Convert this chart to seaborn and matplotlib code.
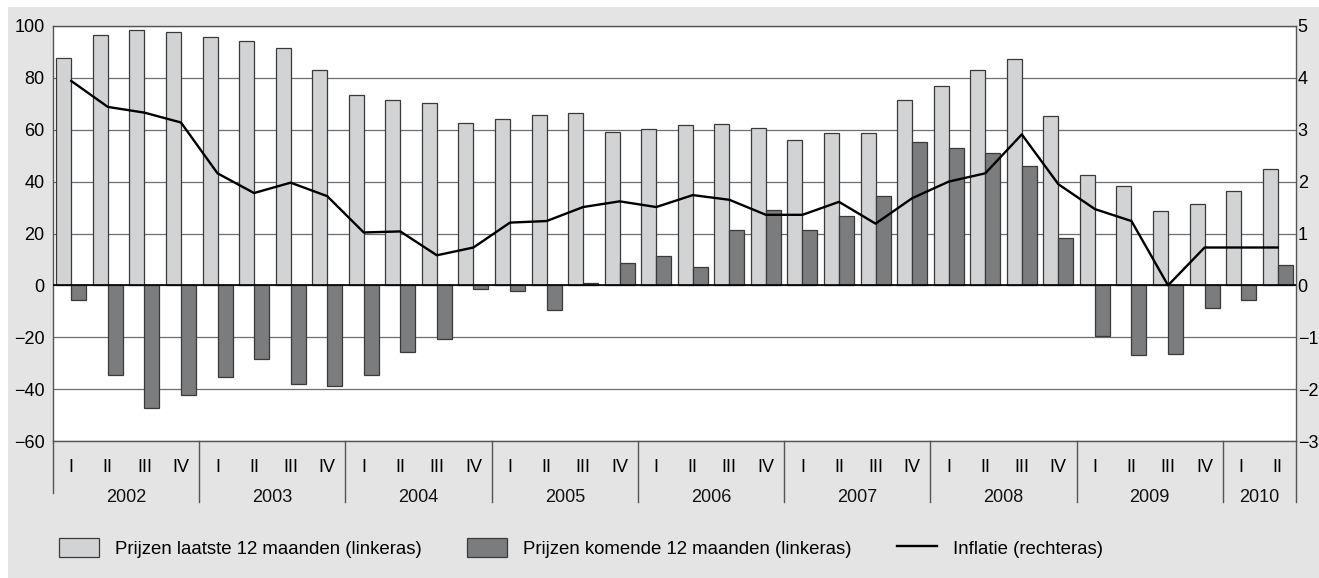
import matplotlib
matplotlib.use("Agg")
import matplotlib.pyplot as plt
import matplotlib.transforms as mtransforms
from matplotlib.patches import Rectangle, Patch
from matplotlib.lines import Line2D
import numpy as np
import pandas as pd
import seaborn as sns

# ---------------- data ----------------
years = ["2002", "2003", "2004", "2005", "2006", "2007", "2008", "2009", "2010"]
quarters_per_year = [4, 4, 4, 4, 4, 4, 4, 4, 2]
quarter_names = ["I", "II", "III", "IV"]

prijzen_laatste = [87.6, 96.7, 98.3, 97.8, 95.7, 94.2, 91.6, 83.1,
                   73.3, 71.4, 70.4, 62.6, 64.3, 65.7, 66.3, 59.2,
                   60.2, 61.8, 62.3, 60.7, 56.2, 58.7, 58.7, 71.5,
                   76.9, 83.0, 87.1, 65.2, 42.5, 38.5, 28.7, 31.4,
                   36.4, 44.9]
prijzen_komende = [-5.8, -34.7, -47.3, -42.3, -35.2, -28.2, -38.2, -38.7,
                   -34.7, -25.6, -20.6, -1.3, -2.3, -9.4, 0.9, 8.5,
                   11.5, 6.9, 21.2, 29.2, 21.2, 26.8, 34.3, 55.2,
                   53.1, 51.1, 46.0, 18.1, -19.4, -27.0, -26.4, -8.7,
                   -5.7, 8.0]
inflatie = [3.94, 3.44, 3.33, 3.14, 2.16, 1.78, 1.98, 1.72,
            1.02, 1.04, 0.58, 0.73, 1.21, 1.24, 1.51, 1.62,
            1.51, 1.74, 1.65, 1.36, 1.36, 1.61, 1.19, 1.68,
            2.00, 2.16, 2.91, 1.95, 1.47, 1.24, 0.00, 0.73,
            0.73, 0.73]

label_laatste = "Prijzen laatste 12 maanden (linkeras)"
label_komende = "Prijzen komende 12 maanden (linkeras)"
label_inflatie = "Inflatie (rechteras)"

left_ticks = [-60, -40, -20, 0, 20, 40, 60, 80, 100]
right_ticks = [-3, -2, -1, 0, 1, 2, 3, 4, 5]

# ---------------- build tables ----------------
period_keys, q_labels = [], []
for y, n in zip(years, quarters_per_year):
    for q in quarter_names[:n]:
        period_keys.append(f"{y} {q}")
        q_labels.append(q)
n_per = len(period_keys)

bars = pd.DataFrame({
    "periode": period_keys * 2,
    "waarde": prijzen_laatste + prijzen_komende,
    "reeks": [label_laatste] * n_per + [label_komende] * n_per,
})
line_df = pd.DataFrame({"pos": np.arange(n_per), "inflatie": inflatie})

# ---------------- style ----------------
plt.rcParams["font.family"] = ["Liberation Sans", "DejaVu Sans"]
plt.rcParams["axes.unicode_minus"] = True

W, H = 1319, 578
fig = plt.figure(figsize=(W / 100, H / 100), dpi=100)
fig.patch.set_facecolor("white")
fig.patches.append(Rectangle((8 / W, 0), 1, 1 - 7 / H, transform=fig.transFigure,
                             facecolor="#e3e4e3", edgecolor="none", zorder=-10))

ax_l, ax_r, ax_t, ax_b = 53 / W, 1296 / W, 1 - 26 / H, 1 - 441 / H
ax = fig.add_axes([ax_l, ax_b, ax_r - ax_l, ax_t - ax_b])
ax.set_facecolor("white")

light, dark = "#d2d3d5", "#7b7c7e"
edge = "#3a3a3a"
sns.barplot(data=bars, x="periode", y="waarde", hue="reeks", order=period_keys,
            hue_order=[label_laatste, label_komende],
            palette={label_laatste: light, label_komende: dark},
            saturation=1, width=0.82, errorbar=None, edgecolor=edge,
            linewidth=0.9, legend=False, ax=ax, zorder=3)

ax.set_ylim(-60, 100)
ax.set_xlim(-0.5, n_per - 0.5)
ax.set_yticks(left_ticks)
ax.set_yticklabels([f"{v:d}".replace("-", "\u2212") for v in left_ticks], fontsize=13)
ax.tick_params(axis="y", length=0, pad=6)
ax.set_xticks(range(n_per))
ax.set_xticklabels(q_labels, fontsize=13)
ax.tick_params(axis="x", length=0, pad=13)
ax.set_xlabel("")
ax.set_ylabel("")
for v in left_ticks:
    ax.axhline(v, color="#6f6f6f", lw=0.9, zorder=1)
ax.axhline(0, color="black", lw=1.2, zorder=4)
for s in ax.spines.values():
    s.set_color("#555555")
    s.set_linewidth(1.0)

# secondary axis with line
ax2 = ax.twinx()
sns.lineplot(data=line_df, x="pos", y="inflatie", color="black", linewidth=1.7,
             ax=ax2, zorder=5)
ax2.set_ylim(-3, 5)
ax2.set_xlim(-0.5, n_per - 0.5)
ax2.set_yticks(right_ticks)
ax2.set_yticklabels([f"{v:d}".replace("-", "\u2212") for v in right_ticks], fontsize=13)
ax2.tick_params(axis="y", length=0, pad=1.2)
ax2.set_xlabel("")
ax2.set_ylabel("")
for s in ax2.spines.values():
    s.set_visible(False)

# category separators and year labels
trans = mtransforms.blended_transform_factory(ax.transData, ax.transAxes)
ax_h_px = 441 - 26
sep_bottom = -(502 - 441) / ax_h_px
left_bottom = -(493 - 441) / ax_h_px
year_y = -(497 - 441) / ax_h_px
ax.plot([-0.5, -0.5], [0, left_bottom], transform=trans, color="#555555", lw=1.0, clip_on=False)
start = 0
for y, n in zip(years, quarters_per_year):
    end = start + n
    ax.plot([end - 0.5, end - 0.5], [0, sep_bottom], transform=trans,
            color="#555555", lw=1.0, clip_on=False)
    ax.text((start + end - 1) / 2, year_y, y, transform=trans, ha="center",
            va="center", fontsize=13, color="#111111")
    start = end

# legend
handles = [Patch(facecolor=light, edgecolor=edge, linewidth=0.9),
           Patch(facecolor=dark, edgecolor=edge, linewidth=0.9),
           Line2D([0], [0], color="black", lw=1.7)]
fig.legend(handles, [label_laatste, label_komende, label_inflatie],
           loc="center left", bbox_to_anchor=(59 / W, 1 - 548 / H), ncol=3,
           frameon=False, fontsize=13.4, handlelength=2.15, handleheight=1.2,
           handletextpad=0.85, columnspacing=2.45, borderpad=0, borderaxespad=0)

fig.savefig("out.png", dpi=100)
